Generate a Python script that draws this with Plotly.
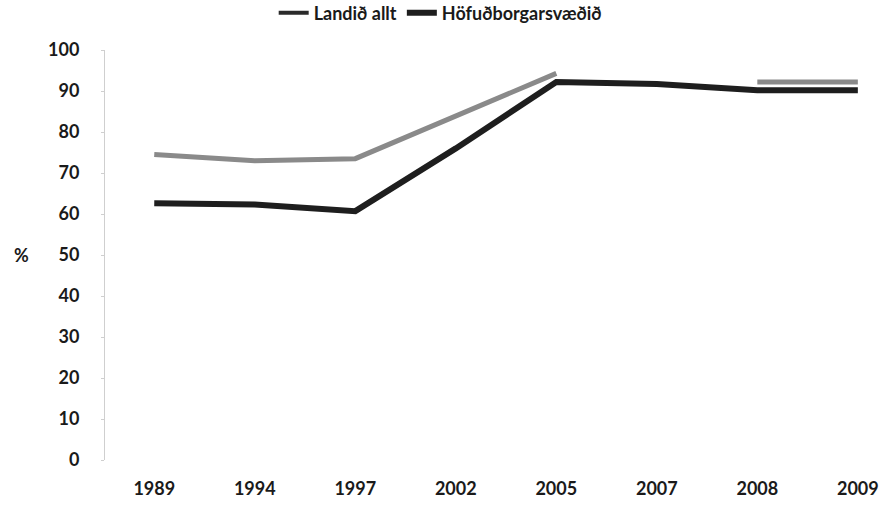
import plotly.graph_objects as go

# Values (%)
years = ["1989", "1994", "1997", "2002", "2005", "2007", "2008", "2009"]
landid_allt = [74.5, 73.0, 73.5, 84.0, 94.3, None, 92.2, 92.2]
hofudborgarsvaedid = [62.6, 62.3, 60.7, 76.0, 92.2, 91.7, 90.2, 90.2]
y_ticks = [0, 10, 20, 30, 40, 50, 60, 70, 80, 90, 100]

FONT = "Lato"
GREY = "#8a8a8a"
BLACK = "#1e1e1e"
label_font = dict(family=FONT, size=18, color="#1a1a1a", weight="bold")

W, H = 890, 509

fig = go.Figure()

# Data lines (legend drawn separately: in the original both legend keys are dark)
fig.add_trace(go.Scatter(
    x=years, y=landid_allt, mode="lines", name="Landið allt",
    line=dict(color=GREY, width=5), connectgaps=False, showlegend=False,
))
fig.add_trace(go.Scatter(
    x=years, y=hofudborgarsvaedid, mode="lines", name="Höfuðborgarsvæðið",
    line=dict(color=BLACK, width=6), showlegend=False,
))

# Legend keys
fig.add_trace(go.Scatter(
    x=[None], y=[None], mode="lines", name="Landið allt",
    line=dict(color="#2a2a2a", width=4),
))
fig.add_trace(go.Scatter(
    x=[None], y=[None], mode="lines", name="Höfuðborgarsvæðið",
    line=dict(color=BLACK, width=6),
))

fig.update_layout(
    width=W, height=H,
    margin=dict(l=105, r=0, t=50, b=49, autoexpand=False),
    paper_bgcolor="white", plot_bgcolor="white",
    font=label_font,
    showlegend=True,
    legend=dict(
        orientation="h", x=0.427, xanchor="center",
        yref="container", y=1 - 13 / H, yanchor="middle",
        font=label_font, bgcolor="rgba(0,0,0,0)",
    ),
    xaxis=dict(
        type="category", range=[-0.49, 7.32], automargin=False,
        showline=False, showgrid=False, zeroline=False,
        ticks="", ticklabelstandoff=16, tickfont=label_font,
    ),
    yaxis=dict(
        range=[0, 100], tickvals=y_ticks, automargin=False,
        showline=True, linecolor="#cfcfcf", linewidth=1,
        ticks="outside", ticklen=3, tickcolor="#cfcfcf",
        showgrid=False, zeroline=False, ticklabelstandoff=18,
        tickfont=label_font,
    ),
    annotations=[dict(
        text="%", xref="paper", yref="paper", x=-0.106, y=0.5,
        xanchor="center", yanchor="middle", showarrow=False,
        font=label_font,
    )],
)

# drop the default 8px page margin so the figure fills the window
fig.write_html(
    "out.html",
    config={"displayModeBar": False},
    post_script="document.body.style.margin='0';",
)
